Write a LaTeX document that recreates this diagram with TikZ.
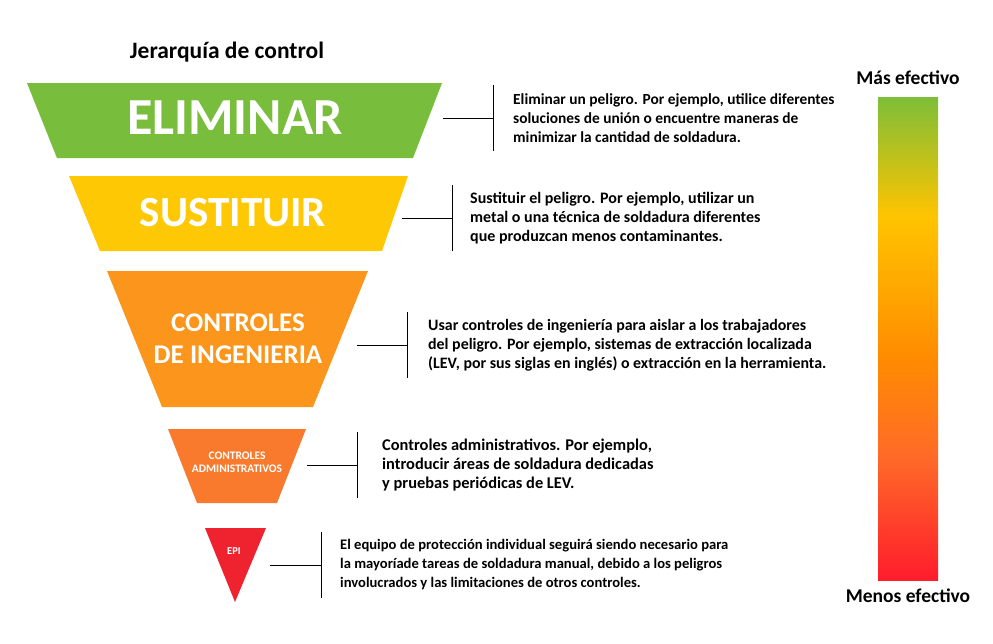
\documentclass[tikz,border=0pt]{standalone}
\usepackage{fontspec}
\setmainfont{Carlito}
\usetikzlibrary{positioning}

\definecolor{elimgreen}{HTML}{78BE3C}
\definecolor{sustyellow}{HTML}{FFC805}
\definecolor{ingorange}{HTML}{FB951C}
\definecolor{admorange}{HTML}{F97A2C}
\definecolor{epired}{HTML}{EF2230}
\definecolor{bargreen}{HTML}{7DBE38}
\definecolor{baryellow}{HTML}{FFC400}
\definecolor{barorange}{HTML}{FF8C00}
\definecolor{barorred}{HTML}{FF6A28}
\definecolor{barred}{HTML}{FF1C2C}

\pgfdeclareverticalshading{effbar}{100bp}{color(0bp)=(barred); color(25bp)=(barred); color(37.7bp)=(barorred); color(48.1bp)=(barorange); color(62.6bp)=(baryellow); color(75bp)=(bargreen); color(100bp)=(bargreen)}

\newcommand{\barhalf}{33}
\newcommand{\descsize}[1]{\bfseries\fontsize{#1}{19}\selectfont}

\begin{document}
\begin{tikzpicture}[x=1pt, y=-1pt,
    levellbl/.style={text=white, inner sep=0pt, align=center},
    conn/.style={black, line width=0.9pt},
    desc/.style={inner sep=0pt, align=left},
    heading/.style={font=\bfseries\fontsize{19.5}{22}\selectfont}]
    \useasboundingbox (0,0) rectangle (993,643);

    %levels
    \fill[elimgreen ] (27,83)  -- (442,83)  -- (413,158) -- (57,158)  -- cycle;
    \fill[sustyellow] (69,176) -- (408,176) -- (382,251) -- (100,251) -- cycle;
    \fill[ingorange ] (107,271)-- (368,271) -- (313,407) -- (162,407) -- cycle;
    \fill[admorange ] (168,429)-- (306,429) -- (277,503) -- (197,503) -- cycle;
    \fill[epired    ] (205,528)-- (266,528) -- (235,602) -- cycle;

    %labels
    \node[levellbl, font=\bfseries\fontsize{52}{52}\selectfont    , name=elim] at (235,118)   {ELIMINAR};
    \node[levellbl, font=\bfseries\fontsize{43}{43}\selectfont    , name=sust] at (233,213)   {SUSTITUIR};
    \node[levellbl, font=\bfseries\fontsize{27}{32}\selectfont    , name=ing ] at (238,339)   {CONTROLES\\DE INGENIERIA};
    \node[levellbl, font=\bfseries\fontsize{11.5}{13.5}\selectfont, name=adm ] at (237,462.5) {CONTROLES\\ADMINISTRATIVOS};
    \node[levellbl, font=\bfseries\fontsize{10.5}{12}\selectfont  , name=epi ] at (234,551)   {EPI};

    %connectors
    \coordinate (elimR) at (443,118);  \coordinate (elimbar) at (493,118);
    \coordinate (sustR) at (402,218);  \coordinate (sustbar) at (452,218);
    \coordinate (ingR)  at (357,345);  \coordinate (ingbar)  at (407,345);
    \coordinate (admR)  at (307,465);  \coordinate (admbar)  at (357,465);
    \coordinate (epiR)  at (270,565);  \coordinate (epibar)  at (321,565);
    \foreach \b in {elim, sust, ing, adm, epi}{
        \draw[conn] (\b R) -- (\b bar);
        \draw[conn] (\b bar) ++(0,-\barhalf) -- ++(0,2*\barhalf);
    }

    %descriptions
    \node[desc, font=\descsize{15.4}, right=20pt of elimbar, name=elimtxt] {Eliminar un peligro. Por ejemplo, utilice diferentes\\soluciones de unión o encuentre maneras de\\minimizar la cantidad de soldadura.};
    \node[desc, font=\descsize{16}  , right=18pt of sustbar, name=susttxt] {Sustituir el peligro. Por ejemplo, utilizar un\\metal o una técnica de soldadura diferentes\\que produzcan menos contaminantes.};
    \node[desc, font=\descsize{15.9}, right=21pt of ingbar , name=ingtxt ] {Usar controles de ingeniería para aislar a los trabajadores\\del peligro. Por ejemplo, sistemas de extracción localizada\\(LEV, por sus siglas en inglés) o extracción en la herramienta.};
    \node[desc, font=\descsize{16.4}, right=25pt of admbar , name=admtxt ] {Controles administrativos. Por ejemplo,\\introducir áreas de soldadura dedicadas\\y pruebas periódicas de LEV.};
    \node[desc, font=\descsize{14.6}, right=19pt of epibar , name=epitxt ] {El equipo de protección individual seguirá siendo necesario para\\la mayoríade tareas de soldadura manual, debido a los peligros\\involucrados y las limitaciones de otros controles.};

    %titles and scale
    \node[heading, font=\bfseries\fontsize{23.5}{26}\selectfont, name=title] at (227,52) {Jerarquía de control};
    \shade[shading=effbar] (878,97) rectangle (938,580);
    \node[heading, name=maslbl]   at (908,78)  {Más efectivo};
    \node[heading, name=menoslbl] at (908,596) {Menos efectivo};
\end{tikzpicture}
\end{document}
